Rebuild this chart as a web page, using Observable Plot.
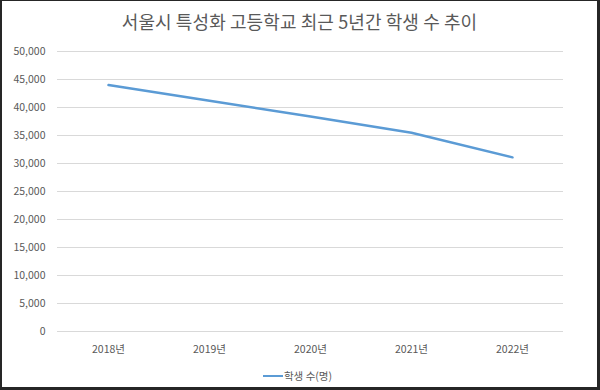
<!DOCTYPE html>
<html>
<head>
<meta charset="utf-8">
<script src="https://cdn.jsdelivr.net/npm/d3@7"></script>
<script src="https://cdn.jsdelivr.net/npm/@observablehq/plot@0.6"></script>
<style>
  html, body { margin: 0; padding: 0; background: #fff; }
  #frame {
    width: 600px; height: 390px; box-sizing: border-box;
    border-left: 2px solid #262626; border-top: 1px solid #262626;
    border-right: 3px solid #262626; border-bottom: 3px solid #262626;
    position: relative; overflow: hidden; background: #fff;
    font-family: "Noto Sans CJK KR", "Noto Sans", sans-serif;
  }
  #title {
    height: 39px; line-height: 40px; text-align: center;
    font-size: 18px; color: #595959; letter-spacing: 0.1px;
  }
  #chart svg { display: block; }
  #legend {
    display: flex; justify-content: center; align-items: center;
    font-size: 10.5px; color: #595959; margin-top: 6px; padding-right: 4px;
  }
  #legend .sw { width: 20px; height: 0; border-top: 2.5px solid #5b9bd5; margin-right: 1px; }
</style>
</head>
<body>
<div id="frame">
  <div id="title">서울시 특성화 고등학교 최근 5년간 학생 수 추이</div>
  <div id="chart"></div>
  <div id="legend"><span class="sw"></span><span id="legendLabel"></span></div>
</div>
<script>
const years = ["2018년", "2019년", "2020년", "2021년", "2022년"];
const students = [44000, 41200, 38400, 35500, 31100];
const seriesName = "학생 수(명)";
const yTicks = [0, 5000, 10000, 15000, 20000, 25000, 30000, 35000, 40000, 45000, 50000];

const data = years.map((y, i) => ({year: y, value: students[i]}));
document.getElementById("legendLabel").textContent = seriesName;

const chart = Plot.plot({
  width: 595,
  height: 322,
  marginTop: 11,
  marginBottom: 31,
  marginLeft: 55,
  marginRight: 34,
  style: {fontFamily: '"Noto Sans CJK KR", "Noto Sans", sans-serif', fontSize: "10.5px", color: "#595959", background: "#fff"},
  x: {type: "point", domain: years, padding: 0.5, label: null},
  y: {domain: [0, 50000], label: null},
  marks: [
    Plot.ruleY(yTicks, {stroke: "#d9d9d9", strokeWidth: 1, strokeOpacity: 1}),
    Plot.axisY({ticks: yTicks, tickFormat: d3.format(","), tickSize: 0, tickPadding: 12, label: null, fill: "#595959"}),
    Plot.axisX({tickSize: 0, tickPadding: 14, label: null, fill: "#595959"}),
    Plot.line(data, {x: "year", y: "value", stroke: "#5b9bd5", strokeWidth: 2.5, strokeLinejoin: "round", strokeLinecap: "round"})
  ]
});
document.getElementById("chart").appendChild(chart);
</script>
</body>
</html>
